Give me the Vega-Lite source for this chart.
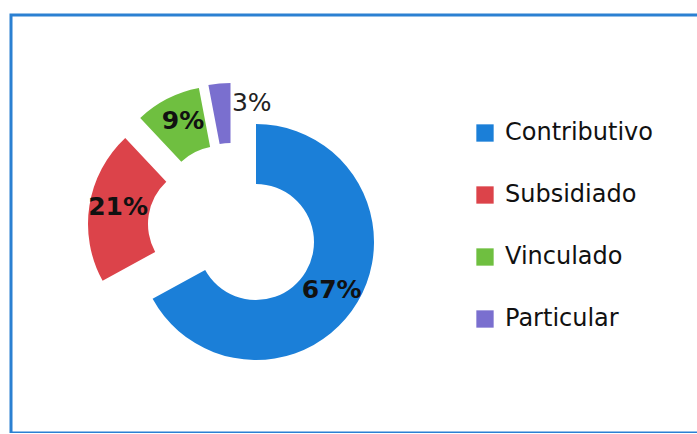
{
  "$schema": "https://vega.github.io/schema/vega-lite/v6.json",
  "width": 690,
  "height": 418,
  "padding": {"left": 11, "top": 15, "right": 0, "bottom": 0},
  "background": "#ffffff",
  "view": {"stroke": "#2b80d2", "strokeWidth": 3, "fill": "#ffffff"},
  "config": {
    "view": {"stroke": "#2b80d2", "strokeWidth": 3, "fill": "#ffffff"},
    "legend": {
      "orient": "none",
      "legendX": 462,
      "legendY": 106,
      "symbolType": "square",
      "symbolSize": 300,
      "symbolStrokeWidth": 0,
      "labelFont": "DejaVu Sans",
      "labelFontSize": 24,
      "labelColor": "#111111",
      "labelOffset": 8,
      "rowPadding": 38,
      "title": null
    }
  },
  "data": {
    "values": [
      {"tipo": "Contributivo", "pct": 0.67, "orden": 1},
      {"tipo": "Subsidiado", "pct": 0.21, "orden": 2},
      {"tipo": "Vinculado", "pct": 0.09, "orden": 3},
      {"tipo": "Particular", "pct": 0.03, "orden": 4}
    ]
  },
  "encoding": {
    "theta": {"field": "pct", "type": "quantitative", "stack": true},
    "order": {"field": "orden", "type": "quantitative"},
    "color": {
      "field": "tipo",
      "type": "nominal",
      "scale": {
        "domain": ["Contributivo", "Subsidiado", "Vinculado", "Particular"],
        "range": ["#1b7fd8", "#dc434a", "#6fbf40", "#7a6fcf"]
      },
      "legend": {"title": null}
    }
  },
  "layer": [
    {
      "mark": {"type": "arc", "outerRadius": 118, "innerRadius": 58, "xOffset": -100, "yOffset": 18},
      "encoding": {"opacity": {"condition": {"test": "datum.tipo === 'Contributivo'", "value": 1}, "value": 0}}
    },
    {
      "mark": {"type": "arc", "outerRadius": 118, "innerRadius": 58, "xOffset": -150, "yOffset": 0},
      "encoding": {"opacity": {"condition": {"test": "datum.tipo === 'Subsidiado'", "value": 1}, "value": 0}}
    },
    {
      "mark": {"type": "arc", "outerRadius": 118, "innerRadius": 58, "xOffset": -135, "yOffset": -20},
      "encoding": {"opacity": {"condition": {"test": "datum.tipo === 'Vinculado'", "value": 1}, "value": 0}}
    },
    {
      "mark": {"type": "arc", "outerRadius": 118, "innerRadius": 58, "xOffset": -125.5, "yOffset": -23},
      "encoding": {"opacity": {"condition": {"test": "datum.tipo === 'Particular'", "value": 1}, "value": 0}}
    },
    {
      "mark": {"type": "text", "radius": 88, "xOffset": -100, "yOffset": 21, "font": "DejaVu Sans", "fontSize": 25, "fontWeight": "bold", "color": "#111111"},
      "encoding": {
        "text": {"field": "pct", "type": "quantitative", "format": ".0%"},
        "color": {"value": "#111111"},
        "opacity": {"condition": {"test": "datum.tipo === 'Contributivo'", "value": 1}, "value": 0}
      }
    },
    {
      "mark": {"type": "text", "radius": 88, "xOffset": -151, "yOffset": -3, "font": "DejaVu Sans", "fontSize": 25, "fontWeight": "bold", "color": "#111111"},
      "encoding": {
        "text": {"field": "pct", "type": "quantitative", "format": ".0%"},
        "color": {"value": "#111111"},
        "opacity": {"condition": {"test": "datum.tipo === 'Subsidiado'", "value": 1}, "value": 0}
      }
    },
    {
      "mark": {"type": "text", "radius": 88, "xOffset": -133, "yOffset": -25, "font": "DejaVu Sans", "fontSize": 25, "fontWeight": "bold", "color": "#111111"},
      "encoding": {
        "text": {"field": "pct", "type": "quantitative", "format": ".0%"},
        "color": {"value": "#111111"},
        "opacity": {"condition": {"test": "datum.tipo === 'Vinculado'", "value": 1}, "value": 0}
      }
    },
    {
      "mark": {"type": "text", "radius": 88, "xOffset": -96, "yOffset": -33, "font": "DejaVu Sans", "fontSize": 25, "color": "#222222"},
      "encoding": {
        "text": {"field": "pct", "type": "quantitative", "format": ".0%"},
        "color": {"value": "#222222"},
        "opacity": {"condition": {"test": "datum.tipo === 'Particular'", "value": 1}, "value": 0}
      }
    }
  ]
}
